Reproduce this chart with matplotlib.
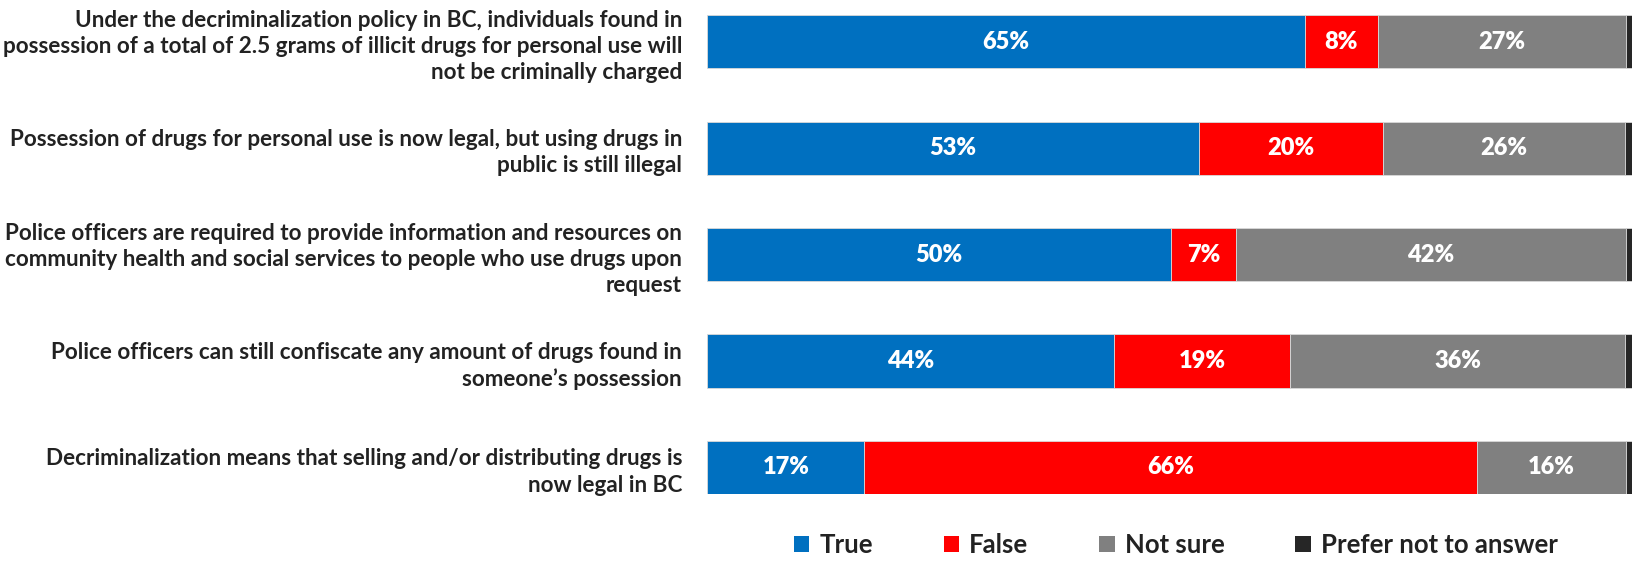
import numpy as np
import matplotlib
matplotlib.use("Agg")
import matplotlib.pyplot as plt
from matplotlib.patches import Patch

plt.rcParams['font.family'] = ['Lato', 'DejaVu Sans']
plt.rcParams['font.weight'] = 'bold'

# Statements (top to bottom)
statements = [
    "Under the decriminalization policy in BC, individuals found in\n"
    "possession of a total of 2.5 grams of illicit drugs for personal use will\n"
    "not be criminally charged",
    "Possession of drugs for personal use is now legal, but using drugs in\n"
    "public is still illegal",
    "Police officers are required to provide information and resources on\n"
    "community health and social services to people who use drugs upon\n"
    "request",
    "Police officers can still confiscate any amount of drugs found in\n"
    "someone\u2019s possession",
    "Decriminalization means that selling and/or distributing drugs is\n"
    "now legal in BC",
]

# Response shares (%)
true_vals = [64.6, 53.1, 50.1, 44.0, 17.0]
false_vals = [7.9, 19.9, 7.0, 19.0, 66.2]
not_sure_vals = [26.8, 26.1, 42.1, 36.1, 16.0]
prefer_vals = [0.8, 0.9, 0.8, 0.9, 0.8]

series_names = ["True", "False", "Not sure", "Prefer not to answer"]
colors = ["#0070C0", "#FF0000", "#808080", "#262626"]

data = np.array([true_vals, false_vals, not_sure_vals, prefer_vals])
totals = data.sum(axis=0)
shares = data / totals * 100

fig = plt.figure(figsize=(16.33, 5.64), dpi=100)
ax = fig.add_axes([0.433, 0.124, 0.567, 0.849])

y = np.arange(len(statements))
left = np.zeros(len(statements))
for i, name in enumerate(series_names):
    ax.barh(y, shares[i], left=left, height=0.5, color=colors[i],
            edgecolor="#d9d9d9", linewidth=0.6, label=name)
    for j in range(len(statements)):
        if data[i, j] >= 3:
            ax.text(left[j] + shares[i, j] / 2, y[j], f"{data[i, j]:.0f}%",
                    ha="center", va="center", color="white",
                    fontsize=17, fontweight="heavy")
    left += shares[i]

ax.set_xlim(0, 100)
ax.set_ylim(4.25, -0.25)
ax.set_yticks(y)
ax.set_yticklabels(statements, fontsize=16.2, fontweight="bold", color="#222222",
                   linespacing=1.3)
ax.tick_params(axis="y", length=0, pad=18)
ax.set_xticks([])
for s in ax.spines.values():
    s.set_visible(False)

handles = [Patch(facecolor=c) for c in colors]
fig.legend(handles, series_names, loc="center", bbox_to_anchor=(0.72, 0.034),
           ncol=4, frameon=False, handlelength=0.6, handleheight=0.6,
           handletextpad=0.4, columnspacing=2.75, prop={'weight': 'bold', 'size': 18.5})
for t in fig.legends[0].get_texts():
    t.set_color("#222222")

fig.savefig("out.png", dpi=100)
